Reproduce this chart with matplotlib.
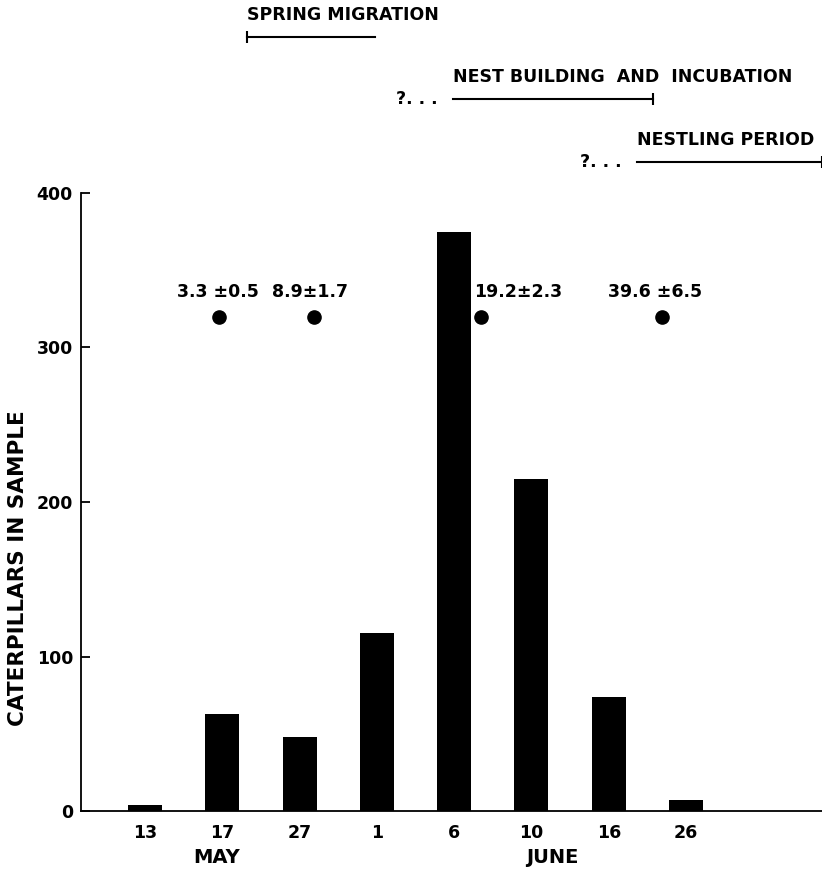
import numpy as np
import matplotlib
matplotlib.use("Agg")
import matplotlib.pyplot as plt

# --- Data ---
dates = ["13", "17", "27", "1", "6", "10", "16", "26"]
caterpillars = [4, 63, 48, 115, 375, 215, 74, 7]

# nestling feeding rates (mean ± SE), drawn as dots above the bars
dot_x = [0.96, 2.19, 4.35, 6.69]
dot_y = [320, 320, 320, 320]
dot_labels = ["3.3 ±0.5", "8.9±1.7", "19.2±2.3", "39.6 ±6.5"]
dot_label_x = [0.95, 2.13, 4.83, 6.60]

# breeding phases (start, end in category units)
phase_names = ["SPRING MIGRATION", "NEST BUILDING  AND  INCUBATION", "NESTLING PERIOD"]
phase_start = [1.32, 3.98, 6.36]
phase_end = [2.98, 6.57, 8.76]
phase_level = [501, 461, 420]
phase_uncertain = [False, True, True]

months = ["MAY", "JUNE"]
month_x = [0.93, 5.27]

plt.rcParams["font.family"] = ["DejaVu Sans"]
plt.rcParams["font.weight"] = "bold"

fig = plt.figure(figsize=(8.22, 8.71), dpi=100)
ax = fig.add_axes([81 / 822, 60 / 871, 741 / 822, 618 / 871])

x = np.arange(len(dates))
ax.bar(x, caterpillars, width=0.44, color="black")
ax.plot(dot_x, dot_y, "o", color="black", markersize=9.5, clip_on=False)
for lx, ly, s in zip(dot_label_x, dot_y, dot_labels):
    ax.text(lx, ly + 16, s, ha="center", va="center", fontsize=12.5, fontweight="bold")

ax.set_xlim(-0.828, 8.76)
ax.set_ylim(0, 400)
ax.set_yticks([0, 100, 200, 300, 400])
ax.set_xticks(x)
ax.set_xticklabels(dates, fontweight="bold")
ax.set_yticklabels(["0", "100", "200", "300", "400"], fontweight="bold")
ax.tick_params(axis="y", direction="in", length=6.5, width=1.3, pad=5.8, labelsize=12.5)
ax.tick_params(axis="x", length=0, pad=9, labelsize=12.5)
for side in ["top", "right"]:
    ax.spines[side].set_visible(False)
for side in ["left", "bottom"]:
    ax.spines[side].set_linewidth(1.3)

for mx, m in zip(month_x, months):
    ax.text(mx, -30, m, ha="center", va="center", fontsize=14, fontweight="bold")

fig.text(18 / 822, 1 - 568 / 871, "CATERPILLARS IN SAMPLE", rotation=90,
         ha="center", va="center", fontsize=15.5, fontweight="bold")

# phase bars over the top
for i, name in enumerate(phase_names):
    y0 = phase_level[i]
    ax.plot([phase_start[i], phase_end[i]], [y0, y0], color="black", lw=1.5, clip_on=False)
    if i == 0:
        ax.plot([phase_start[i]], [y0], marker="|", color="black", markersize=8, mew=1.5, clip_on=False)
    else:
        ax.plot([phase_end[i]], [y0], marker="|", color="black", markersize=8, mew=1.5, clip_on=False)
    ax.annotate(name, (phase_start[i], y0), xytext=(0, 16), textcoords="offset points",
                ha="left", va="center", fontsize=12.5, fontweight="bold", annotation_clip=False)
    if phase_uncertain[i]:
        ax.annotate("?. . .", (phase_start[i], y0), xytext=(-11, 0), textcoords="offset points",
                    ha="right", va="center", fontsize=12.5, fontweight="bold", annotation_clip=False)

fig.savefig("out.png", dpi=100)
